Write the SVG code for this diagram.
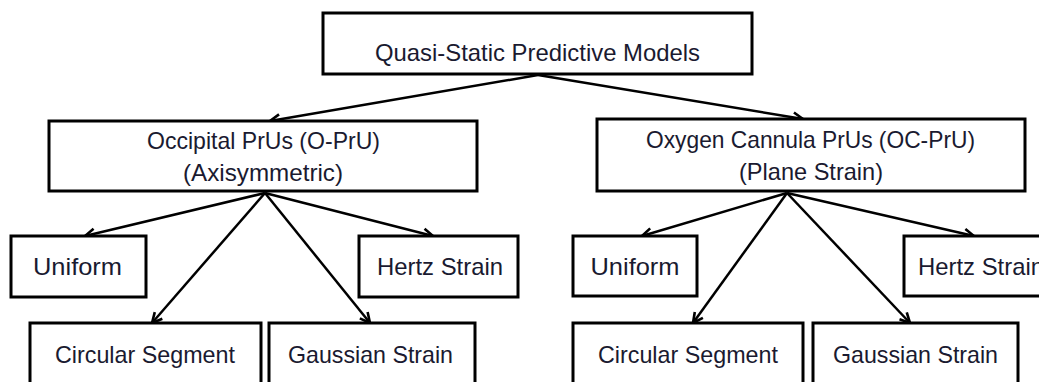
<svg xmlns="http://www.w3.org/2000/svg" width="1039" height="382" viewBox="0 0 1039 382">
<defs>
<marker id="arr" markerUnits="userSpaceOnUse" markerWidth="16" markerHeight="16" viewBox="0 0 16 16" refX="14" refY="8" orient="auto">
<path d="M4,3 L14,8 L4,13" fill="none" stroke="#000" stroke-width="2.6" stroke-linejoin="miter"/>
</marker>
<style>
.box{fill:#fff;stroke:#000;stroke-width:3}
.t{font-family:"Liberation Sans",Arial,sans-serif;font-size:24px;fill:#1a1a30;text-anchor:middle}
.c line{stroke:#000;stroke-width:2.5;marker-end:url(#arr)}
</style>
</defs>
<rect width="1039" height="382" fill="#fff"/>
<g class="c" id="connectors">
<line x1="538" y1="75" x2="270" y2="121"/>
<line x1="538" y1="75" x2="803" y2="119"/>
<line x1="265" y1="193" x2="85" y2="236"/>
<line x1="265" y1="193" x2="152" y2="323"/>
<line x1="265" y1="193" x2="370" y2="323"/>
<line x1="265" y1="193" x2="433" y2="236"/>
<line x1="787" y1="193" x2="642" y2="236"/>
<line x1="787" y1="193" x2="693" y2="323"/>
<line x1="787" y1="193" x2="910" y2="323"/>
<line x1="787" y1="193" x2="974" y2="236"/>
</g>
<g id="root"><rect class="box" x="323" y="13" width="429" height="61"/><text class="t" x="537.5" y="61" textLength="325" lengthAdjust="spacingAndGlyphs">Quasi-Static Predictive Models</text></g>
<g id="oprU"><rect class="box" x="49" y="121" width="428" height="70"/><text class="t" x="263.5" y="149" textLength="233" lengthAdjust="spacingAndGlyphs">Occipital PrUs (O-PrU)</text><text class="t" x="263" y="181" textLength="160" lengthAdjust="spacingAndGlyphs">(Axisymmetric)</text></g>
<g id="ocprU"><rect class="box" x="597" y="119" width="428" height="72"/><text class="t" x="810.5" y="148" textLength="329" lengthAdjust="spacingAndGlyphs">Oxygen Cannula PrUs (OC-PrU)</text><text class="t" x="811" y="180" textLength="144" lengthAdjust="spacingAndGlyphs">(Plane Strain)</text></g>
<g id="uniformL"><rect class="box" x="11" y="236" width="135" height="61"/><text class="t" x="77.5" y="275" textLength="89" lengthAdjust="spacingAndGlyphs">Uniform</text></g>
<g id="hertzL"><rect class="box" x="359" y="236" width="159" height="61"/><text class="t" x="440" y="275" textLength="126" lengthAdjust="spacingAndGlyphs">Hertz Strain</text></g>
<g id="circularL"><rect class="box" x="30" y="323" width="231" height="70"/><text class="t" x="145" y="363" textLength="180" lengthAdjust="spacingAndGlyphs">Circular Segment</text></g>
<g id="gaussianL"><rect class="box" x="269" y="323" width="206" height="70"/><text class="t" x="370.5" y="363" textLength="165" lengthAdjust="spacingAndGlyphs">Gaussian Strain</text></g>
<g id="uniformR"><rect class="box" x="573" y="236" width="124" height="60"/><text class="t" x="635" y="275" textLength="89" lengthAdjust="spacingAndGlyphs">Uniform</text></g>
<g id="hertzR"><rect class="box" x="904" y="236" width="154" height="60"/><text class="t" x="981" y="275" textLength="126" lengthAdjust="spacingAndGlyphs">Hertz Strain</text></g>
<g id="circularR"><rect class="box" x="573" y="323" width="230" height="70"/><text class="t" x="688" y="363" textLength="180" lengthAdjust="spacingAndGlyphs">Circular Segment</text></g>
<g id="gaussianR"><rect class="box" x="813" y="323" width="205" height="70"/><text class="t" x="915.5" y="363" textLength="165" lengthAdjust="spacingAndGlyphs">Gaussian Strain</text></g>
</svg>
